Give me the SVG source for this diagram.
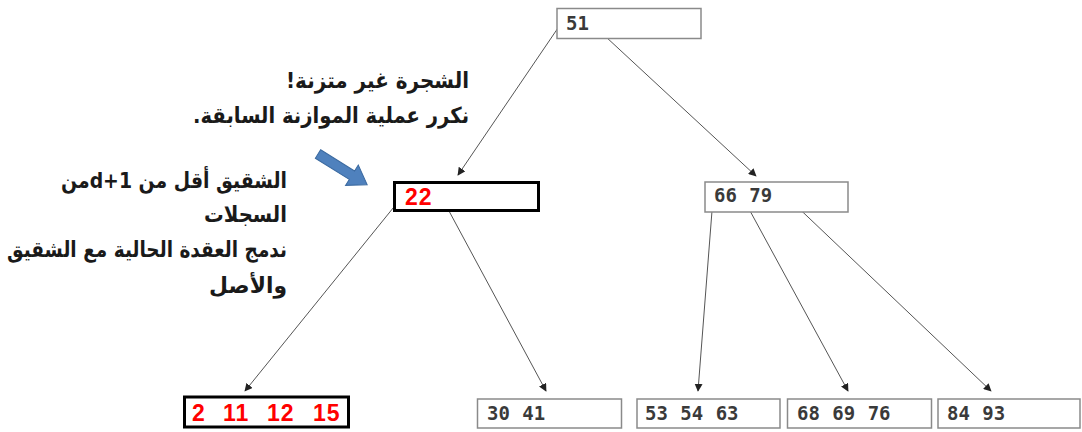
<svg xmlns="http://www.w3.org/2000/svg" width="1082" height="432" viewBox="0 0 1082 432">
<style>
.box{fill:#fff;stroke:#8a8a8a;stroke-width:1.5}
.bold{fill:#fff;stroke:#000;stroke-width:3}
.num{font-family:"DejaVu Sans Mono",monospace;font-size:19px;font-weight:bold;fill:#3a3a3a;word-spacing:1px}
.red{font-family:"Liberation Sans",Arial,sans-serif;font-weight:bold;font-size:23px;fill:#ff0000}
.ar{font-family:"DejaVu Sans",sans-serif;font-size:22px;font-weight:bold;fill:#1a1a1a}
.conn{stroke:#555;stroke-width:1;fill:none;marker-end:url(#ah)}
</style>
<defs>
<marker id="ah" viewBox="0 0 10 10" refX="9" refY="5" markerWidth="8" markerHeight="8" markerUnits="userSpaceOnUse" orient="auto">
<path d="M0,0 L10,5 L0,10 z" fill="#222"/>
</marker>
</defs>
<g id="connectors">
<line class="conn" x1="560" y1="25" x2="458" y2="175"/>
<line class="conn" x1="592" y1="24" x2="756" y2="176"/>
<line class="conn" x1="402" y1="197" x2="245" y2="391"/>
<line class="conn" x1="442" y1="198" x2="546" y2="391"/>
<line class="conn" x1="713" y1="198" x2="698" y2="391"/>
<line class="conn" x1="743" y1="198" x2="848" y2="391"/>
<line class="conn" x1="788" y1="198" x2="991" y2="391"/>
</g>
<g id="node-51">
<rect class="box" x="557" y="8.5" width="144" height="30"/>
<text class="num" x="566" y="30">51</text>
</g>
<g id="node-22">
<rect class="bold" x="394.5" y="182.5" width="144" height="28"/>
<text class="red" x="405" y="205" letter-spacing="1">22</text>
</g>
<g id="node-66-79">
<rect class="box" x="705" y="182" width="143" height="30"/>
<text class="num" x="714" y="202">66 79</text>
</g>
<g id="node-2-11-12-15">
<rect class="bold" x="184.5" y="397" width="164" height="30"/>
<text class="red" y="421" letter-spacing="1"><tspan x="192">2</tspan><tspan x="223">11</tspan><tspan x="267">12</tspan><tspan x="313">15</tspan></text>
</g>
<g id="node-30-41">
<rect class="box" x="477.5" y="399" width="144" height="29"/>
<text class="num" x="487" y="420">30 41</text>
</g>
<g id="node-53-54-63">
<rect class="box" x="637" y="399" width="143" height="29"/>
<text class="num" x="645" y="420">53 54 63</text>
</g>
<g id="node-68-69-76">
<rect class="box" x="787.5" y="399" width="144" height="29"/>
<text class="num" x="797" y="420">68 69 76</text>
</g>
<g id="node-84-93">
<rect class="box" x="938" y="399" width="142" height="29"/>
<text class="num" x="947" y="420">84 93</text>
</g>
<g id="note-top">
<text class="ar" direction="rtl" text-anchor="start" x="469" y="88" textLength="183" lengthAdjust="spacingAndGlyphs">الشجرة غير متزنة!</text>
<text class="ar" direction="rtl" text-anchor="start" x="469" y="123" textLength="276" lengthAdjust="spacingAndGlyphs">نكرر عملية الموازنة السابقة.</text>
</g>
<g id="blue-arrow">
<polygon points="0,-5 40,-5 40,-12 58,0 40,12 40,5 0,5" transform="translate(318,154) rotate(32)" fill="#4f81bd" stroke="#3b6aa0" stroke-width="1"/>
</g>
<g id="note-left">
<text class="ar" direction="rtl" text-anchor="start" x="287" y="188" textLength="226" lengthAdjust="spacingAndGlyphs">الشقيق أقل من  d+1من</text>
<text class="ar" direction="rtl" text-anchor="start" x="287" y="222" textLength="83" lengthAdjust="spacingAndGlyphs">السجلات</text>
<text class="ar" direction="rtl" text-anchor="start" x="287" y="257" textLength="280" lengthAdjust="spacingAndGlyphs">ندمج العقدة الحالية مع الشقيق</text>
<text class="ar" direction="rtl" text-anchor="start" x="287" y="293" textLength="78" lengthAdjust="spacingAndGlyphs">والأصل</text>
</g>
</svg>
